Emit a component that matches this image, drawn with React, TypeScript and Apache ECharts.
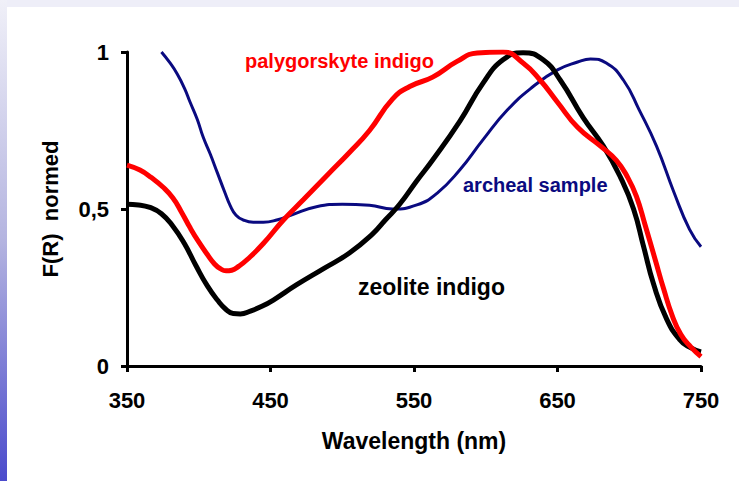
import React, { useEffect, useRef } from "react";
import * as echarts from "echarts";

const xTicks = [350, 450, 550, 650, 750];
const yTicks = [0, 0.5, 1];

const zeoliteX = [350, 358, 366, 374, 382, 390, 398, 406, 413, 419, 424, 429, 436, 444, 452, 468, 487, 505, 521, 530, 540, 552, 563, 582, 598, 612, 626, 640, 652, 668, 682, 694, 703, 710, 717, 726, 735, 742, 750];
const zeoliteY = [0.515, 0.513, 0.505, 0.485, 0.445, 0.39, 0.32, 0.255, 0.21, 0.18, 0.167, 0.166, 0.175, 0.19, 0.21, 0.258, 0.31, 0.36, 0.42, 0.465, 0.515, 0.59, 0.656, 0.78, 0.9, 0.975, 0.998, 0.975, 0.91, 0.79, 0.7, 0.6, 0.5, 0.38, 0.26, 0.15, 0.085, 0.06, 0.045];

const palyX = [350, 359, 367, 375, 382, 388, 394, 400, 406, 411, 415, 419, 423, 428, 434, 445, 459, 473, 490, 505, 519, 535, 547, 563, 580, 594, 612, 626, 638, 650, 664, 680, 691, 699, 705, 711, 718, 724, 730, 736, 743, 750];
const palyY = [0.64, 0.624, 0.6, 0.57, 0.535, 0.49, 0.44, 0.395, 0.355, 0.325, 0.31, 0.303, 0.305, 0.318, 0.34, 0.39, 0.465, 0.53, 0.61, 0.68, 0.75, 0.85, 0.89, 0.92, 0.97, 0.997, 1.0, 0.965, 0.91, 0.84, 0.76, 0.7, 0.655, 0.6, 0.54, 0.45, 0.34, 0.245, 0.16, 0.1, 0.06, 0.03];

const archX = [374, 380, 385, 390, 394, 399, 403, 408, 413, 418, 422, 426, 431, 438, 445, 455, 464, 482, 500, 519, 535, 552, 566, 582, 598, 615, 633, 650, 664, 673, 684, 696, 707, 719, 731, 742, 750];
const archY = [1.0, 0.965, 0.93, 0.885, 0.84, 0.785, 0.73, 0.675, 0.615, 0.555, 0.51, 0.48, 0.465, 0.458, 0.458, 0.466, 0.48, 0.507, 0.515, 0.512, 0.5, 0.513, 0.55, 0.625, 0.72, 0.815, 0.89, 0.943, 0.968, 0.978, 0.965, 0.91, 0.815, 0.7, 0.555, 0.435, 0.38];

const pairs = (xs: number[], ys: number[]) => xs.map((x, i) => [x, ys[i]]);

const FONT = "'Liberation Sans', Arial, sans-serif";

export default function App() {
  const ref = useRef<HTMLDivElement>(null);
  useEffect(() => {
    const chart = echarts.init(ref.current!, null, { renderer: "svg" });
    chart.setOption({
      animation: false,
      backgroundColor: "#ffffff",
      grid: { left: 127, right: 38, top: 52, bottom: 115 },
      xAxis: {
        type: "value",
        min: 350,
        max: 750,
        name: "Wavelength (nm)",
        nameLocation: "middle",
        nameGap: 63,
        nameTextStyle: { fontFamily: FONT, fontWeight: "bold", fontSize: 23, color: "#000" },
        axisLine: { show: true, lineStyle: { color: "#000", width: 3 } },
        axisTick: { show: true, length: 6, lineStyle: { color: "#000", width: 3 }, customValues: xTicks },
        axisLabel: { customValues: xTicks, margin: 23, fontFamily: FONT, fontWeight: "bold", fontSize: 22, color: "#000" },
        splitLine: { show: false },
      },
      yAxis: {
        type: "value",
        min: 0,
        max: 1,
        interval: 0.5,
        name: "F(R)  normed",
        nameLocation: "middle",
        nameGap: 66,
        nameRotate: 90,
        nameTextStyle: { fontFamily: FONT, fontWeight: "bold", fontSize: 22, color: "#000" },
        axisLine: { show: true, lineStyle: { color: "#000", width: 3 } },
        axisTick: { show: true, length: 6, lineStyle: { color: "#000", width: 3 }, customValues: yTicks },
        axisLabel: {
          customValues: yTicks,
          margin: 18,
          fontFamily: FONT,
          fontWeight: "bold",
          fontSize: 22,
          color: "#000",
          formatter: (v: number) => String(v).replace(".", ","),
        },
        splitLine: { show: false },
      },
      graphic: [
        { type: "rect", shape: { x: 0, y: 0, width: 739, height: 7 }, style: { fill: "#eeeef8" }, silent: true },
        {
          type: "rect",
          shape: { x: 0, y: 0, width: 7, height: 481 },
          style: {
            fill: new echarts.graphic.LinearGradient(0, 0, 0, 1, [
              { offset: 0, color: "#f0f0f8" },
              { offset: 0.5, color: "#b4b4e0" },
              { offset: 1, color: "#4b4bcc" },
            ]),
          },
          silent: true,
        },
        { type: "text", left: 245, top: 51, style: { text: "palygorskyte indigo", fill: "#ff0000", font: `bold 20px ${FONT}` } },
        { type: "text", left: 463, top: 175, style: { text: "archeal sample", fill: "#0a0a80", font: `bold 20px ${FONT}` } },
        { type: "text", left: 358, top: 275, style: { text: "zeolite indigo", fill: "#000000", font: `bold 23px ${FONT}` } },
      ],
      series: [
        {
          type: "line",
          name: "archeal sample",
          data: pairs(archX, archY),
          smooth: 0.5,
          showSymbol: false,
          lineStyle: { color: "#0a0a80", width: 3 },
          clip: true,
        },
        {
          type: "line",
          name: "zeolite indigo",
          data: pairs(zeoliteX, zeoliteY),
          smooth: 0.5,
          showSymbol: false,
          lineStyle: { color: "#000000", width: 5 },
          clip: true,
        },
        {
          type: "line",
          name: "palygorskyte indigo",
          data: pairs(palyX, palyY),
          smooth: 0.5,
          showSymbol: false,
          lineStyle: { color: "#ff0000", width: 5 },
          clip: true,
        },
      ],
    });
    return () => chart.dispose();
  }, []);
  return <div ref={ref} style={{ position: "absolute", left: 0, top: 0, width: 739, height: 481 }} />;
}
